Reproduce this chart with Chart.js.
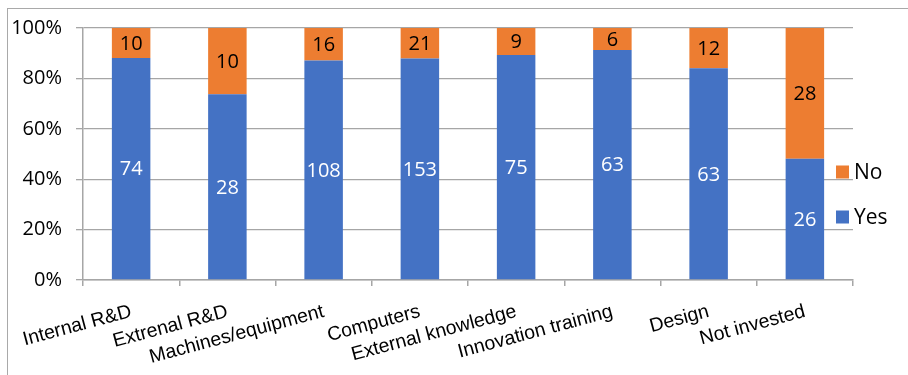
<!DOCTYPE html>
<html>
<head>
<meta charset="utf-8">
<script src="https://cdn.jsdelivr.net/npm/chart.js@4/dist/chart.umd.min.js"></script>
<style>
  html, body { margin: 0; padding: 0; background: #fff; overflow: hidden; }
  #wrap { position: relative; width: 908px; height: 375px; }
  #frame { position: absolute; left: 7px; top: 8px; width: 1000px; height: 500px;
           border-left: 1.5px solid #a9a9a9; border-top: 1.5px solid #a9a9a9; pointer-events: none; }
  canvas { position: absolute; left: 0; top: 0; }
</style>
</head>
<body>
<div id="wrap">
  <canvas id="c" width="908" height="375"></canvas>
  <div id="frame"></div>
</div>
<script>
// Investment categories and answer counts
const categories = ['Internal R&D', 'Extrenal R&D', 'Machines/equipment', 'Computers',
                    'External knowledge', 'Innovation training', 'Design', 'Not invested'];
const yesCounts = [74, 28, 108, 153, 75, 63, 63, 26];
const noCounts  = [10, 10, 16, 21, 9, 6, 12, 28];
const yTicks = [0, 20, 40, 60, 80, 100];

// 100% stacked shares
const share = (a, b) => a.map((v, i) => v / (v + b[i]) * 100);
const yesShare = share(yesCounts, noCounts);
const noShare = share(noCounts, yesCounts);

const BLUE = '#4472C4';
const ORANGE = '#ED7D31';
const FONT = '"Open Sans", "Noto Sans", sans-serif';

// Count labels centred in each segment
const segmentLabels = {
  id: 'segmentLabels',
  afterDatasetsDraw(chart) {
    const ctx = chart.ctx;
    ctx.save();
    ctx.font = '20px ' + FONT;
    ctx.textAlign = 'center';
    ctx.textBaseline = 'middle';
    chart.data.datasets.forEach((ds, di) => {
      const meta = chart.getDatasetMeta(di);
      meta.data.forEach((bar, i) => {
        const top = Math.min(bar.y, bar.base), bot = Math.max(bar.y, bar.base);
        ctx.fillStyle = ds.labelColor;
        ctx.fillText(String(ds.counts[i]), bar.x, (top + bot) / 2 + 1);
      });
    });
    ctx.restore();
  }
};

// Legend drawn over the right edge of the plot, "No" above "Yes"
const sideLegend = {
  id: 'sideLegend',
  afterDraw(chart) {
    const ctx = chart.ctx;
    const a = chart.chartArea;
    const items = chart.data.datasets.slice().reverse();
    ctx.save();
    ctx.font = '21px ' + FONT;
    ctx.textBaseline = 'middle';
    ctx.textAlign = 'left';
    items.forEach((ds, k) => {
      const cy = a.top + 144 + k * 45;
      const x = a.right - 17;
      ctx.fillStyle = ds.backgroundColor;
      ctx.fillRect(x, cy - 6.5, 13, 13);
      ctx.fillStyle = '#000';
      ctx.fillText(ds.label, x + 18, cy + 1);
    });
    ctx.restore();
  }
};

new Chart(document.getElementById('c'), {
  type: 'bar',
  data: {
    labels: categories,
    datasets: [
      { label: 'Yes', data: yesShare, counts: yesCounts, backgroundColor: BLUE,
        labelColor: '#fff', barPercentage: 0.4, categoryPercentage: 1.0 },
      { label: 'No', data: noShare, counts: noCounts, backgroundColor: ORANGE,
        labelColor: '#000', barPercentage: 0.4, categoryPercentage: 1.0 }
    ]
  },
  options: {
    responsive: false,
    animation: false,
    devicePixelRatio: 1,
    layout: { padding: { left: 0, top: 28, right: 55, bottom: 0 } },
    plugins: { legend: { display: false }, tooltip: { enabled: false } },
    scales: {
      x: {
        stacked: true,
        offset: true,
        grid: { offset: true, drawOnChartArea: false, drawTicks: true, tickLength: 6, color: '#a6a6a6', lineWidth: 1.5 },
        border: { color: '#a6a6a6', width: 1.5 },
        ticks: { color: '#000', font: { family: '"Liberation Sans", Arial, sans-serif', size: 19.5 },
                 minRotation: 15, maxRotation: 15, autoSkip: false, padding: 14 },
        afterFit: s => { s.height = 95; }
      },
      y: {
        stacked: true,
        min: 0, max: 100,
        afterBuildTicks: s => { s.ticks = yTicks.map(v => ({ value: v })); },
        grid: { color: '#a6a6a6', lineWidth: 1.3, tickLength: 7 },
        border: { color: '#a6a6a6', width: 1.5 },
        ticks: { color: '#000', font: { family: FONT, size: 20 }, padding: 14,
                 callback: v => v + '%' },
        afterFit: s => { s.width = 83; }
      }
    }
  },
  plugins: [segmentLabels, sideLegend]
});
</script>
</body>
</html>
